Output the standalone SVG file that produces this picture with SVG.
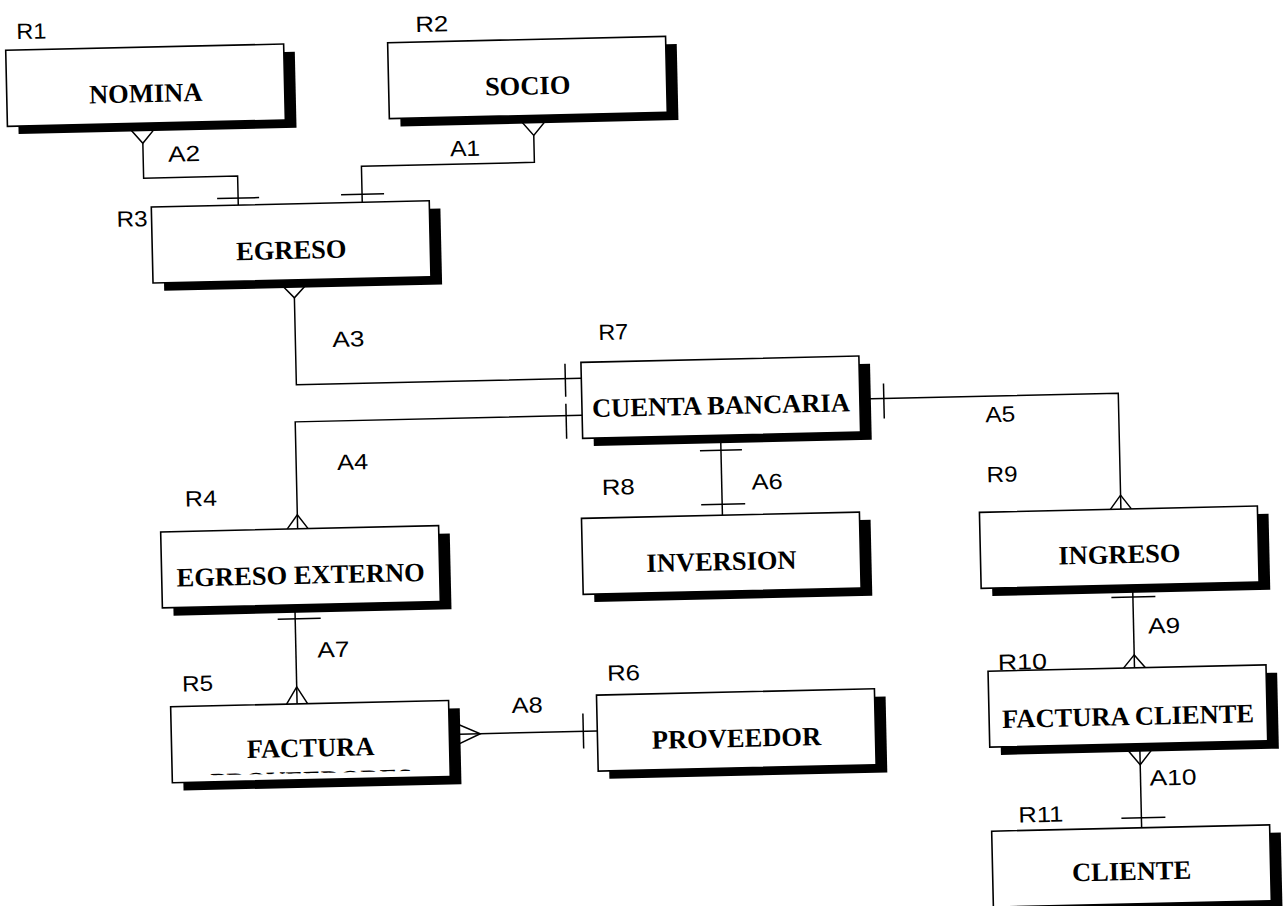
<svg xmlns="http://www.w3.org/2000/svg" width="1285" height="906" viewBox="0 0 1285 906">
  <style>
    .box { fill: #fff; stroke: #000; stroke-width: 1.6; }
    .shadow { fill: #000; }
    .name { font-family: "Liberation Serif", "Times New Roman", serif; font-weight: bold; font-size: 26.5px; text-anchor: middle; fill: #000; }
    .tag { font-family: "Liberation Sans", Arial, sans-serif; font-size: 22px; fill: #000; }
    .link { fill: none; stroke: #000; stroke-width: 1.5; }
  </style>
  <defs>
    <clipPath id="facturaInner" clipPathUnits="userSpaceOnUse">
      <rect x="165" y="696" width="278" height="69.5"/>
    </clipPath>
  </defs>
  <rect width="1285" height="906" fill="#fff"/>

  <!-- the whole sheet sits slightly tilted -->
  <g transform="rotate(-1.3 642 453)">

    <!-- relationships: crow's feet, single-cardinality bars, labels -->
    <g id="connectors">
      <!-- A2 NOMINA - EGRESO -->
      <path class="link" d="M150,132 V167 H244 V196"/>
      <path class="link" d="M133,112 L150,132 L167,112"/>
      <path class="link" d="M223,189 H265"/>
      <text class="tag" x="175" y="151" textLength="32" lengthAdjust="spacingAndGlyphs">A2</text>

      <!-- A1 SOCIO - EGRESO -->
      <path class="link" d="M541,133 V160 H368 V196"/>
      <path class="link" d="M524,113 L541,133 L558,113"/>
      <path class="link" d="M347,188 H390"/>
      <text class="tag" x="457" y="152" textLength="30" lengthAdjust="spacingAndGlyphs">A1</text>

      <!-- A3 EGRESO - CUENTA BANCARIA -->
      <path class="link" d="M298,290 V377 H583"/>
      <path class="link" d="M281,272 L298,290 L315,272"/>
      <path class="link" d="M567,362 V395"/>
      <text class="tag" x="335" y="340" textLength="32" lengthAdjust="spacingAndGlyphs">A3</text>

      <!-- A4 CUENTA BANCARIA - EGRESO EXTERNO -->
      <path class="link" d="M583,414 H296 V521"/>
      <path class="link" d="M285.5,521 L296,507 L306.5,521"/>
      <path class="link" d="M567,402 V437"/>
      <text class="tag" x="337" y="463" textLength="31" lengthAdjust="spacingAndGlyphs">A4</text>

      <!-- A5 CUENTA BANCARIA - INGRESO -->
      <path class="link" d="M861,404 H1119.5 V520"/>
      <path class="link" d="M885,389 V424"/>
      <path class="link" d="M1109,520 L1119.5,506 L1130,520"/>
      <text class="tag" x="986" y="430" textLength="30" lengthAdjust="spacingAndGlyphs">A5</text>

      <!-- A6 CUENTA BANCARIA - INVERSION -->
      <path class="link" d="M721,437 V517"/>
      <path class="link" d="M700,452 H742"/>
      <path class="link" d="M700,506 H744"/>
      <text class="tag" x="751" y="492" textLength="31" lengthAdjust="spacingAndGlyphs">A6</text>

      <!-- A7 EGRESO EXTERNO - FACTURA -->
      <path class="link" d="M291.5,597 V696"/>
      <path class="link" d="M274,611 H317"/>
      <path class="link" d="M281,696 L291.5,679 L302,696"/>
      <text class="tag" x="313" y="650" textLength="32" lengthAdjust="spacingAndGlyphs">A7</text>

      <!-- A8 FACTURA - PROVEEDOR -->
      <path class="link" d="M443,730 H591"/>
      <path class="link" d="M443,716 L474,730 L443,744"/>
      <path class="link" d="M577,712 V747"/>
      <text class="tag" x="506" y="710" textLength="31" lengthAdjust="spacingAndGlyphs">A8</text>

      <!-- A9 INGRESO - FACTURA CLIENTE -->
      <path class="link" d="M1129.5,596 V679"/>
      <path class="link" d="M1108,608 H1152"/>
      <path class="link" d="M1118.5,679 L1129.5,666 L1140.5,679"/>
      <text class="tag" x="1144" y="645" textLength="32" lengthAdjust="spacingAndGlyphs">A9</text>

      <!-- A10 FACTURA CLIENTE - CLIENTE -->
      <path class="link" d="M1133,755 V839"/>
      <path class="link" d="M1116,755 L1133,776 L1150,755"/>
      <path class="link" d="M1113,829 H1157"/>
      <text class="tag" x="1142" y="797" textLength="47" lengthAdjust="spacingAndGlyphs">A10</text>
    </g>

    <!-- entities -->
    <g id="r1-nomina">
      <rect class="shadow" x="26" y="44" width="278" height="76"/>
      <rect class="box" x="15" y="36" width="278" height="76"/>
      <text class="name" x="154" y="91">NOMINA</text>
      <text class="tag" x="26" y="25" textLength="30" lengthAdjust="spacingAndGlyphs">R1</text>
    </g>

    <g id="r2-socio">
      <rect class="shadow" x="408" y="45" width="278" height="76"/>
      <rect class="box" x="397" y="37" width="278" height="76"/>
      <text class="name" x="536" y="92">SOCIO</text>
      <text class="tag" x="425" y="27" textLength="33" lengthAdjust="spacingAndGlyphs">R2</text>
    </g>

    <g id="r3-egreso">
      <rect class="shadow" x="168" y="204" width="278" height="76"/>
      <rect class="box" x="157" y="196" width="278" height="76"/>
      <text class="name" x="296" y="251">EGRESO</text>
      <text class="tag" x="122" y="215" textLength="31" lengthAdjust="spacingAndGlyphs">R3</text>
    </g>

    <g id="r7-cuenta-bancaria">
      <rect class="shadow" x="594" y="369" width="278" height="76"/>
      <rect class="box" x="583" y="361" width="278" height="76"/>
      <text class="name" x="722" y="416">CUENTA BANCARIA</text>
      <text class="tag" x="601" y="339" textLength="30" lengthAdjust="spacingAndGlyphs">R7</text>
    </g>

    <g id="r4-egreso-externo">
      <rect class="shadow" x="170" y="529" width="278" height="76"/>
      <rect class="box" x="159" y="521" width="278" height="76"/>
      <text class="name" x="298" y="576">EGRESO EXTERNO</text>
      <text class="tag" x="184" y="496" textLength="32" lengthAdjust="spacingAndGlyphs">R4</text>
    </g>

    <g id="r8-inversion">
      <rect class="shadow" x="591" y="525" width="278" height="76"/>
      <rect class="box" x="580" y="517" width="278" height="76"/>
      <text class="name" x="719" y="572">INVERSION</text>
      <text class="tag" x="601" y="494" textLength="33" lengthAdjust="spacingAndGlyphs">R8</text>
    </g>

    <g id="r9-ingreso">
      <rect class="shadow" x="989" y="528" width="278" height="76"/>
      <rect class="box" x="978" y="520" width="278" height="76"/>
      <text class="name" x="1117" y="574">INGRESO</text>
      <text class="tag" x="986" y="490" textLength="31" lengthAdjust="spacingAndGlyphs">R9</text>
    </g>

    <g id="r5-factura-proveedores">
      <rect class="shadow" x="176" y="704" width="278" height="76"/>
      <rect class="box" x="165" y="696" width="278" height="76"/>
      <text class="name" x="304" y="749">FACTURA</text>
      <text class="name" x="304" y="781.5" clip-path="url(#facturaInner)">PROVEEDORES</text>
      <text class="tag" x="177" y="681" textLength="31" lengthAdjust="spacingAndGlyphs">R5</text>
    </g>

    <g id="r6-proveedor">
      <rect class="shadow" x="602" y="702" width="278" height="76"/>
      <rect class="box" x="591" y="694" width="278" height="76"/>
      <text class="name" x="730" y="749">PROVEEDOR</text>
      <text class="tag" x="602" y="680" textLength="33" lengthAdjust="spacingAndGlyphs">R6</text>
    </g>

    <g id="r10-factura-cliente">
      <rect class="shadow" x="994" y="687" width="278" height="76"/>
      <rect class="box" x="983" y="679" width="278" height="76"/>
      <text class="name" x="1122" y="736">FACTURA CLIENTE</text>
      <text class="tag" x="993" y="678" textLength="49" lengthAdjust="spacingAndGlyphs">R10</text>
    </g>

    <g id="r11-cliente">
      <rect class="shadow" x="994" y="847" width="278" height="76"/>
      <rect class="box" x="983" y="839" width="278" height="76"/>
      <text class="name" x="1122" y="891">CLIENTE</text>
      <text class="tag" x="1010" y="831" textLength="45" lengthAdjust="spacingAndGlyphs">R11</text>
    </g>
  </g>
</svg>
